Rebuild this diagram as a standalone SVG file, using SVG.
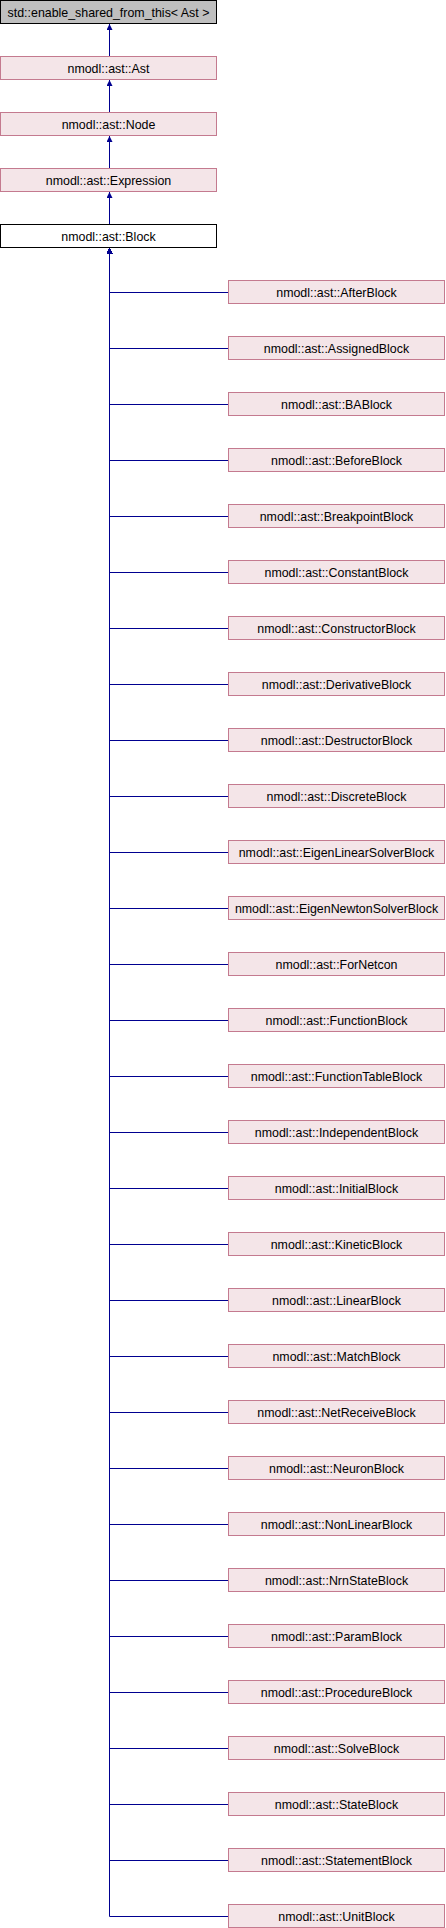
<svg xmlns="http://www.w3.org/2000/svg" width="446" height="1928" viewBox="0 0 446 1928">
<style>
.n rect{fill:#F4E5E8;stroke:#C47A8F;stroke-width:1}
.g rect{fill:#BFBFBF;stroke:#000;stroke-width:1}
.w rect{fill:#FFFFFF;stroke:#000;stroke-width:1}
text{font-family:"Liberation Sans",Arial,sans-serif;font-size:12.4px;fill:#000;text-anchor:middle}
#edges path{fill:none;stroke:#000090;stroke-width:1;marker-end:url(#arr)}
</style>
<defs>
<marker id="arr" viewBox="0 0 10 10" refX="10" refY="5" markerUnits="userSpaceOnUse" markerWidth="6" markerHeight="6" preserveAspectRatio="none" orient="auto">
<path d="M0,0 L10,5 L0,10 z" fill="#000090"/>
</marker>
</defs>
<g id="edges">
<path d="M109.5,56 V24"/>
<path d="M109.5,112 V80"/>
<path d="M109.5,168 V136"/>
<path d="M109.5,224 V192"/>
<path d="M228,292.5 H109.5 V248"/>
<path d="M228,348.5 H109.5 V248"/>
<path d="M228,404.5 H109.5 V248"/>
<path d="M228,460.5 H109.5 V248"/>
<path d="M228,516.5 H109.5 V248"/>
<path d="M228,572.5 H109.5 V248"/>
<path d="M228,628.5 H109.5 V248"/>
<path d="M228,684.5 H109.5 V248"/>
<path d="M228,740.5 H109.5 V248"/>
<path d="M228,796.5 H109.5 V248"/>
<path d="M228,852.5 H109.5 V248"/>
<path d="M228,908.5 H109.5 V248"/>
<path d="M228,964.5 H109.5 V248"/>
<path d="M228,1020.5 H109.5 V248"/>
<path d="M228,1076.5 H109.5 V248"/>
<path d="M228,1132.5 H109.5 V248"/>
<path d="M228,1188.5 H109.5 V248"/>
<path d="M228,1244.5 H109.5 V248"/>
<path d="M228,1300.5 H109.5 V248"/>
<path d="M228,1356.5 H109.5 V248"/>
<path d="M228,1412.5 H109.5 V248"/>
<path d="M228,1468.5 H109.5 V248"/>
<path d="M228,1524.5 H109.5 V248"/>
<path d="M228,1580.5 H109.5 V248"/>
<path d="M228,1636.5 H109.5 V248"/>
<path d="M228,1692.5 H109.5 V248"/>
<path d="M228,1748.5 H109.5 V248"/>
<path d="M228,1804.5 H109.5 V248"/>
<path d="M228,1860.5 H109.5 V248"/>
<path d="M228,1916.5 H109.5 V248"/>
</g>
<g id="n_enable_shared" class="g"><rect x="0.5" y="0.5" width="216" height="23"/><text x="108.5" y="16.5">std::enable_shared_from_this&lt; Ast &gt;</text></g>
<g id="n_ast" class="n"><rect x="0.5" y="56.5" width="216" height="23"/><text x="108.5" y="72.5">nmodl::ast::Ast</text></g>
<g id="n_node" class="n"><rect x="0.5" y="112.5" width="216" height="23"/><text x="108.5" y="128.5">nmodl::ast::Node</text></g>
<g id="n_expression" class="n"><rect x="0.5" y="168.5" width="216" height="23"/><text x="108.5" y="184.5">nmodl::ast::Expression</text></g>
<g id="n_block" class="w"><rect x="0.5" y="224.5" width="216" height="23"/><text x="108.5" y="240.5">nmodl::ast::Block</text></g>
<g id="c01" class="n"><rect x="228.5" y="280.5" width="216" height="23"/><text x="336.5" y="296.5">nmodl::ast::AfterBlock</text></g>
<g id="c02" class="n"><rect x="228.5" y="336.5" width="216" height="23"/><text x="336.5" y="352.5">nmodl::ast::AssignedBlock</text></g>
<g id="c03" class="n"><rect x="228.5" y="392.5" width="216" height="23"/><text x="336.5" y="408.5">nmodl::ast::BABlock</text></g>
<g id="c04" class="n"><rect x="228.5" y="448.5" width="216" height="23"/><text x="336.5" y="464.5">nmodl::ast::BeforeBlock</text></g>
<g id="c05" class="n"><rect x="228.5" y="504.5" width="216" height="23"/><text x="336.5" y="520.5">nmodl::ast::BreakpointBlock</text></g>
<g id="c06" class="n"><rect x="228.5" y="560.5" width="216" height="23"/><text x="336.5" y="576.5">nmodl::ast::ConstantBlock</text></g>
<g id="c07" class="n"><rect x="228.5" y="616.5" width="216" height="23"/><text x="336.5" y="632.5">nmodl::ast::ConstructorBlock</text></g>
<g id="c08" class="n"><rect x="228.5" y="672.5" width="216" height="23"/><text x="336.5" y="688.5">nmodl::ast::DerivativeBlock</text></g>
<g id="c09" class="n"><rect x="228.5" y="728.5" width="216" height="23"/><text x="336.5" y="744.5">nmodl::ast::DestructorBlock</text></g>
<g id="c10" class="n"><rect x="228.5" y="784.5" width="216" height="23"/><text x="336.5" y="800.5">nmodl::ast::DiscreteBlock</text></g>
<g id="c11" class="n"><rect x="228.5" y="840.5" width="216" height="23"/><text x="336.5" y="856.5">nmodl::ast::EigenLinearSolverBlock</text></g>
<g id="c12" class="n"><rect x="228.5" y="896.5" width="216" height="23"/><text x="336.5" y="912.5">nmodl::ast::EigenNewtonSolverBlock</text></g>
<g id="c13" class="n"><rect x="228.5" y="952.5" width="216" height="23"/><text x="336.5" y="968.5">nmodl::ast::ForNetcon</text></g>
<g id="c14" class="n"><rect x="228.5" y="1008.5" width="216" height="23"/><text x="336.5" y="1024.5">nmodl::ast::FunctionBlock</text></g>
<g id="c15" class="n"><rect x="228.5" y="1064.5" width="216" height="23"/><text x="336.5" y="1080.5">nmodl::ast::FunctionTableBlock</text></g>
<g id="c16" class="n"><rect x="228.5" y="1120.5" width="216" height="23"/><text x="336.5" y="1136.5">nmodl::ast::IndependentBlock</text></g>
<g id="c17" class="n"><rect x="228.5" y="1176.5" width="216" height="23"/><text x="336.5" y="1192.5">nmodl::ast::InitialBlock</text></g>
<g id="c18" class="n"><rect x="228.5" y="1232.5" width="216" height="23"/><text x="336.5" y="1248.5">nmodl::ast::KineticBlock</text></g>
<g id="c19" class="n"><rect x="228.5" y="1288.5" width="216" height="23"/><text x="336.5" y="1304.5">nmodl::ast::LinearBlock</text></g>
<g id="c20" class="n"><rect x="228.5" y="1344.5" width="216" height="23"/><text x="336.5" y="1360.5">nmodl::ast::MatchBlock</text></g>
<g id="c21" class="n"><rect x="228.5" y="1400.5" width="216" height="23"/><text x="336.5" y="1416.5">nmodl::ast::NetReceiveBlock</text></g>
<g id="c22" class="n"><rect x="228.5" y="1456.5" width="216" height="23"/><text x="336.5" y="1472.5">nmodl::ast::NeuronBlock</text></g>
<g id="c23" class="n"><rect x="228.5" y="1512.5" width="216" height="23"/><text x="336.5" y="1528.5">nmodl::ast::NonLinearBlock</text></g>
<g id="c24" class="n"><rect x="228.5" y="1568.5" width="216" height="23"/><text x="336.5" y="1584.5">nmodl::ast::NrnStateBlock</text></g>
<g id="c25" class="n"><rect x="228.5" y="1624.5" width="216" height="23"/><text x="336.5" y="1640.5">nmodl::ast::ParamBlock</text></g>
<g id="c26" class="n"><rect x="228.5" y="1680.5" width="216" height="23"/><text x="336.5" y="1696.5">nmodl::ast::ProcedureBlock</text></g>
<g id="c27" class="n"><rect x="228.5" y="1736.5" width="216" height="23"/><text x="336.5" y="1752.5">nmodl::ast::SolveBlock</text></g>
<g id="c28" class="n"><rect x="228.5" y="1792.5" width="216" height="23"/><text x="336.5" y="1808.5">nmodl::ast::StateBlock</text></g>
<g id="c29" class="n"><rect x="228.5" y="1848.5" width="216" height="23"/><text x="336.5" y="1864.5">nmodl::ast::StatementBlock</text></g>
<g id="c30" class="n"><rect x="228.5" y="1904.5" width="216" height="23"/><text x="336.5" y="1920.5">nmodl::ast::UnitBlock</text></g>
</svg>
